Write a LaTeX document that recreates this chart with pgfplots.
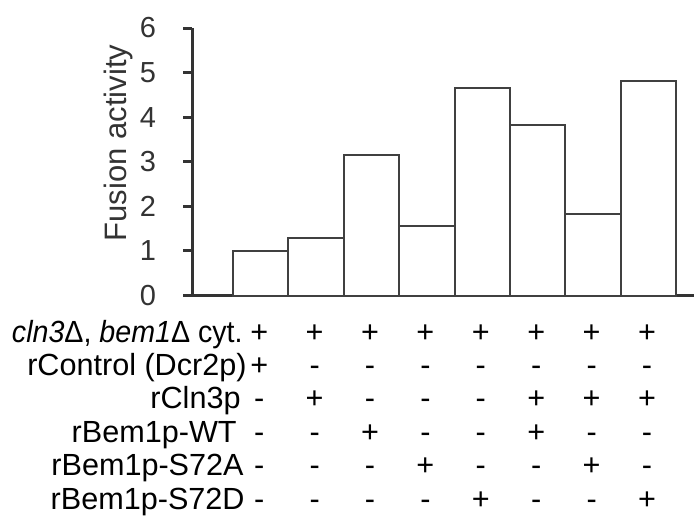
\documentclass[border=0pt]{standalone}
\usepackage{graphicx}
\usepackage{pgfplots}
\pgfplotsset{compat=1.18}
\usepackage{fontspec}
\setmainfont{Liberation Sans}
\definecolor{ink}{HTML}{333333}
\definecolor{edge}{HTML}{404040}
\newcommand\tabfont{\fontsize{15.3}{16.7}\selectfont}

\begin{document}
\begin{tikzpicture}
% 1 px of the reference = 0.5pt
\useasboundingbox (-96pt,-110.25pt) rectangle (251pt,147.75pt);
\begin{axis}[
  at={(0,0)}, anchor=south west,
  scale only axis, width=251pt, height=133.75pt,
  xmin=-1.24, xmax=7.82, ymin=0, ymax=6,
  axis x line=bottom, axis y line=left,
  axis line style={-, line width=1.5pt, draw=ink},
  xtick=\empty,
  ytick={0,1,2,3,4,5,6},
  tick align=outside,
  major tick length=4.5pt,
  ytick style={line width=1.5pt, draw=ink},
  tick label style={font=\fontsize{14.5}{16}\selectfont, text=ink},
  yticklabel style={xshift=-10pt},
  /pgf/number format/assume math mode=true,
  ylabel={Fusion activity},
  ylabel style={font=\fontsize{15.5}{17}\selectfont, text=ink,
    at={(axis description cs:-0.1474,0.57)}, anchor=center},
  clip=false,
]
\addplot[ybar, bar width=1, fill=white, draw=edge, line width=1pt]
  coordinates {(0,0.99) (1,1.29) (2,3.16) (3,1.57) (4,4.65) (5,3.82) (6,1.82) (7,4.82)};
\end{axis}
% condition table under the bars
\foreach \lab/\xe/\signs [count=\r from 0] in {
  {\scalebox{0.935}[1]{\textit{cln3}Δ, \textit{bem1}Δ cyt.}}/25.5/{+,+,+,+,+,+,+,+},
  {rControl (Dcr2p)}/27.5/{+,-,-,-,-,-,-,-},
  {rCln3p}/24.5/{-,+,-,-,-,+,+,+},
  {rBem1p-WT}/22.5/{-,-,+,-,-,+,-,-},
  {rBem1p-S72A}/26/{-,-,-,+,-,-,+,-},
  {rBem1p-S72D}/26.5/{-,-,-,-,+,-,-,+}}{
  \pgfmathsetmacro\yb{-18.25-16.7*\r-5}
  \node[anchor=base east, inner sep=0pt, font=\tabfont] at (\xe pt,\yb pt) {\lab};
  \foreach \s [count=\i from 0] in \signs {
    \node[anchor=base, inner sep=0pt, font=\tabfont] at ({33.6pt+27.7pt*\i},{\yb pt}) {\s};
  }
}
\end{tikzpicture}
\end{document}
